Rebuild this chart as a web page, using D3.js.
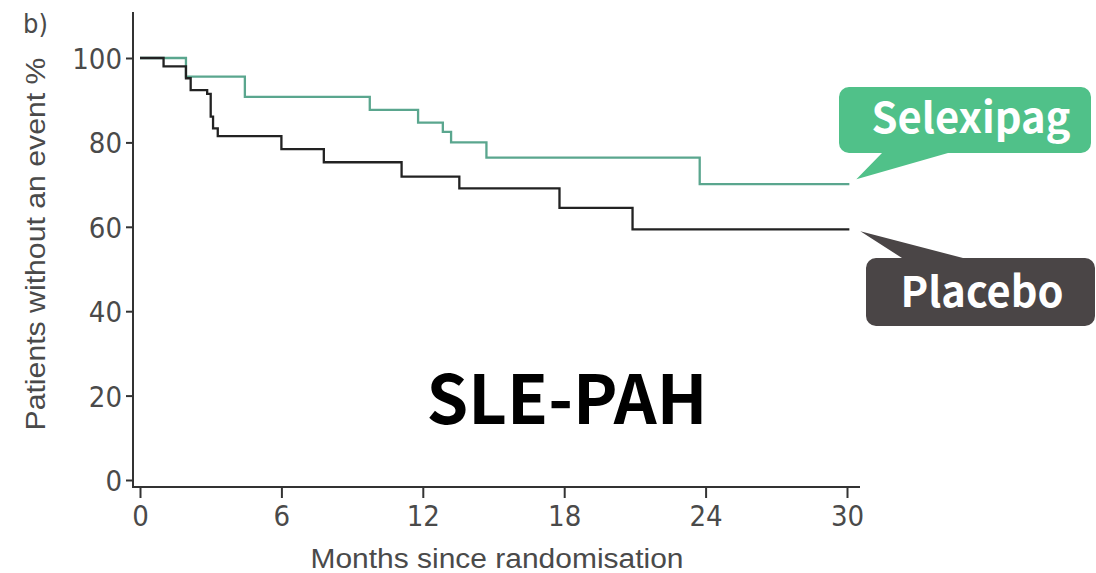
<!DOCTYPE html>
<html>
<head>
<meta charset="utf-8">
<script src="https://cdn.jsdelivr.net/npm/d3@7"></script>
<style>
  html, body { margin: 0; padding: 0; background: #fff; }
  svg { display: block; }
</style>
</head>
<body>
<svg id="chart" width="1096" height="573"></svg>
<script>
// ---- data ----
const placeboTimes  = [0, 1.0, 1.95, 2.15, 2.85, 3.0, 3.1, 3.3, 6.0, 7.8, 11.1, 13.55, 17.8, 20.9, 30.1];
const placeboValues = [100, 98.0, 95.2, 92.4, 91.5, 86.1, 83.3, 81.5, 78.4, 75.3, 71.9, 69.1, 64.5, 59.4, 59.4];
const selexTimes    = [0, 1.95, 4.45, 9.75, 11.8, 12.85, 13.2, 14.7, 23.75, 30.1];
const selexValues   = [100, 95.6, 90.8, 87.7, 84.7, 82.5, 80.0, 76.4, 70.1, 70.1];
const xTicks = [0, 6, 12, 18, 24, 30];
const yTicks = [0, 20, 40, 60, 80, 100];
const seriesNames = ["Selexipag", "Placebo"];
const panelLabel = "b)";
const title = "SLE-PAH";
const xTitle = "Months since randomisation";
const yTitle = "Patients without an event %";

const svg = d3.select("#chart");
const x = d3.scaleLinear().domain([0, 30]).range([140, 847]);
const y = d3.scaleLinear().domain([0, 100]).range([480, 58]);

const axisColor = "#333";
const tickFont = "'Liberation Sans Narrow', 'DejaVu Sans Condensed', sans-serif";
const labelFont = "'Liberation Sans', Arial, sans-serif";

// axis lines
svg.append("line").attr("x1", 133).attr("x2", 133).attr("y1", 12).attr("y2", 487.5)
  .attr("stroke", axisColor).attr("stroke-width", 2);
svg.append("line").attr("x1", 132).attr("x2", 860).attr("y1", 487).attr("y2", 487)
  .attr("stroke", axisColor).attr("stroke-width", 2);

// y axis ticks
const yAxis = svg.append("g").attr("transform", "translate(133,0)")
  .call(d3.axisLeft(y).tickValues(yTicks).tickSize(7).tickPadding(4));
yAxis.select(".domain").remove();
yAxis.selectAll(".tick line").attr("stroke", axisColor).attr("stroke-width", 2);
yAxis.selectAll(".tick text").attr("font-family", tickFont).attr("font-size", 29)
  .attr("fill", "#4a4a4a").attr("dy", "0.36em");

// x axis ticks
const xAxis = svg.append("g").attr("transform", "translate(0,487)")
  .call(d3.axisBottom(x).tickValues(xTicks).tickSize(11).tickPadding(7));
xAxis.select(".domain").remove();
xAxis.selectAll(".tick line").attr("stroke", axisColor).attr("stroke-width", 2);
xAxis.selectAll(".tick text").attr("font-family", tickFont).attr("font-size", 29)
  .attr("fill", "#4a4a4a");

// axis titles
svg.append("text").attr("x", 497).attr("y", 568).attr("text-anchor", "middle")
  .attr("font-family", labelFont).attr("font-size", 27).attr("fill", "#4a4a4a")
  .attr("textLength", 373).attr("lengthAdjust", "spacingAndGlyphs")
  .text(xTitle);
svg.append("text").attr("transform", "translate(45,244) rotate(-90)")
  .attr("text-anchor", "middle")
  .attr("font-family", labelFont).attr("font-size", 27).attr("fill", "#4a4a4a")
  .attr("textLength", 373).attr("lengthAdjust", "spacingAndGlyphs")
  .text(yTitle);

// panel label
svg.append("text").attr("x", 23).attr("y", 33)
  .attr("font-family", tickFont).attr("font-size", 27).attr("fill", "#4a4a4a")
  .text(panelLabel);

// curves
const line = d3.line().curve(d3.curveStepAfter).x(d => x(d[0])).y(d => y(d[1]));
const selexData = selexTimes.map((t, i) => [t, selexValues[i]]);
const placeboData = placeboTimes.map((t, i) => [t, placeboValues[i]]);
svg.append("path").datum(selexData).attr("d", line).attr("fill", "none")
  .attr("stroke", "#5aa68e").attr("stroke-width", 2.3);
svg.append("path").datum(placeboData).attr("d", line).attr("fill", "none")
  .attr("stroke", "#222").attr("stroke-width", 2.3);

// title
svg.append("text").attr("x", 567).attr("y", 424).attr("text-anchor", "middle")
  .attr("font-family", "'Noto Sans CJK JP', 'Liberation Sans', sans-serif")
  .attr("font-weight", "bold").attr("font-size", 68).attr("fill", "#000")
  .attr("textLength", 281).attr("lengthAdjust", "spacingAndGlyphs")
  .text(title);

// callouts
function roundedBox(x0, y0, x1, y1, r, pointer) {
  const p = d3.path();
  p.moveTo(x0 + r, y0);
  if (pointer.side === "top") {
    p.lineTo(pointer.a, y0); p.lineTo(pointer.tx, pointer.ty); p.lineTo(pointer.b, y0);
  }
  p.lineTo(x1 - r, y0);
  p.arcTo(x1, y0, x1, y0 + r, r);
  p.lineTo(x1, y1 - r);
  p.arcTo(x1, y1, x1 - r, y1, r);
  if (pointer.side === "bottom") {
    p.lineTo(pointer.b, y1); p.lineTo(pointer.tx, pointer.ty); p.lineTo(pointer.a, y1);
  }
  p.lineTo(x0 + r, y1);
  p.arcTo(x0, y1, x0, y1 - r, r);
  p.lineTo(x0, y0 + r);
  p.arcTo(x0, y0, x0 + r, y0, r);
  p.closePath();
  return p.toString();
}

const calloutFont = "'Noto Sans CJK JP', 'Liberation Sans', sans-serif";
const selEnd = selexData[selexData.length - 1];
const plaEnd = placeboData[placeboData.length - 1];

svg.append("path")
  .attr("d", roundedBox(839, 87, 1091, 153, 10,
    {side: "bottom", a: 882, b: 948, tx: x(selEnd[0]) + 7, ty: y(selEnd[1]) - 5}))
  .attr("fill", "#50c189");
svg.append("text").attr("x", 971).attr("y", 133).attr("text-anchor", "middle")
  .attr("font-family", calloutFont).attr("font-weight", "bold").attr("font-size", 42)
  .attr("fill", "#fff").attr("textLength", 199).attr("lengthAdjust", "spacingAndGlyphs")
  .text(seriesNames[0]);

svg.append("path")
  .attr("d", roundedBox(866, 258, 1095, 326, 10,
    {side: "top", a: 902, b: 963, tx: x(plaEnd[0]) + 11, ty: y(plaEnd[1]) + 2}))
  .attr("fill", "#4a4546");
svg.append("text").attr("x", 982).attr("y", 307).attr("text-anchor", "middle")
  .attr("font-family", calloutFont).attr("font-weight", "bold").attr("font-size", 42)
  .attr("fill", "#fff").attr("textLength", 163).attr("lengthAdjust", "spacingAndGlyphs")
  .text(seriesNames[1]);
</script>
</body>
</html>
